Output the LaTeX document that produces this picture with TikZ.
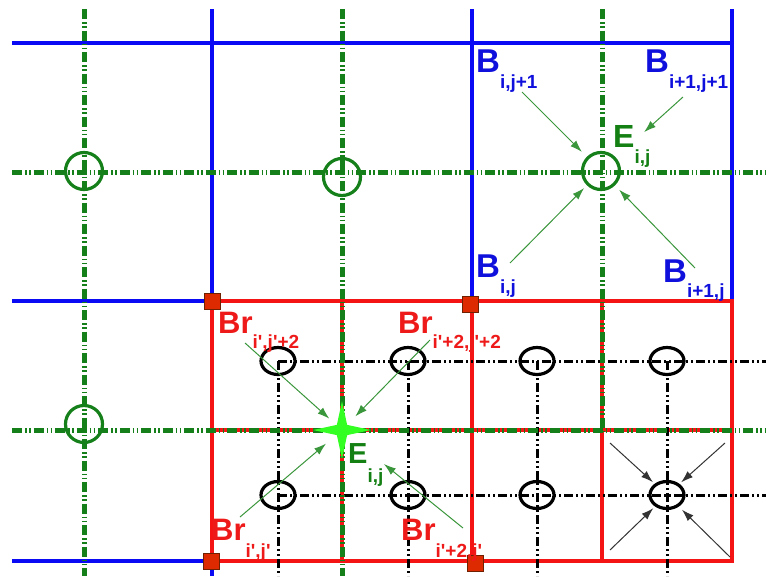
\documentclass[tikz,border=0pt]{standalone}
\usepackage{fontspec}
\setmainfont{Liberation Sans}
\usetikzlibrary{arrows.meta,shapes.geometric}
\definecolor{GridBlue}{HTML}{0A0AF5}
\definecolor{GridRed}{HTML}{F51414}
\definecolor{GridGreen}{HTML}{15801A}
\definecolor{Spark}{HTML}{33FF22}
\definecolor{Knot}{HTML}{DD2A00}
\definecolor{KnotEdge}{HTML}{6E2000}
\definecolor{LabBlue}{HTML}{1010DD}
\definecolor{LabRed}{HTML}{EE1A1A}
\definecolor{LabGreen}{HTML}{148014}
\definecolor{Pointer}{HTML}{3A963A}
\newcommand{\symlab}[4][-16pt]{{\fontsize{#2}{#2}\selectfont\bfseries #3}\raisebox{#1}{\fontsize{19}{19}\selectfont\bfseries #4}}
\newcommand{\pr}{\textquotesingle}
\tikzset{
 blueline/.style={draw=GridBlue, line width=3.5pt},
 redline/.style={draw=GridRed, line width=3.5pt},
 greenline/.style={draw=GridGreen, line width=5pt, dash pattern=on 10pt off 3pt on 1.5pt off 2.5pt on 1.5pt off 3pt},
 blackline/.style={draw=black, line width=3pt, dash pattern=on 9pt off 3pt on 2pt off 3pt on 2pt off 3pt},
 ring/.style={circle, draw=GridGreen, line width=3.2pt, minimum size=37pt, inner sep=0pt},
 oval/.style={ellipse, draw=black, line width=3.2pt, minimum width=34pt, minimum height=27pt, inner sep=0pt},
 knot/.style={rectangle, fill=Knot, draw=KnotEdge, line width=0.8pt, minimum size=16pt, inner sep=0pt},
 spark/.style={star, star points=4, star point ratio=4, fill=Spark, minimum size=58pt, inner sep=0pt},
 blab/.style={text=LabBlue, anchor=base west, inner sep=0pt},
 rlab/.style={text=LabRed, anchor=base west, inner sep=0pt},
 glab/.style={text=LabGreen, anchor=base west, inner sep=0pt},
 pointer/.style={-{Latex[length=12pt,width=8pt]}, draw=Pointer, line width=1pt},
 blackpointer/.style={pointer, draw=black!80}
}
\begin{document}
\begin{tikzpicture}[x=1pt,y=-1pt]
\useasboundingbox (0,0) rectangle (766,576);

\draw[blueline] (12,43) -- (732,43);
\draw[blueline] (12,301) -- (212,301);
\draw[blueline] (12,561) -- (212,561);
\draw[blueline] (212,9) -- (212,576);
\draw[blueline] (472,9) -- (472,301);
\draw[blueline] (732,9) -- (732,301);

\draw[redline] (212,301) rectangle (732,561);
\draw[redline] (342,301) -- (342,561);
\draw[redline] (472,301) -- (472,561);
\draw[redline] (602,301) -- (602,561);
\draw[redline] (212,430) -- (732,430);

\draw[blackline] (278,361) -- (766,361);
\draw[blackline] (278,495) -- (766,495);
\foreach \x in {278,408,537,667}
  \draw[blackline] (\x,361) -- (\x,576);

\draw[greenline] (84,9) -- (84,576);
\draw[greenline] (342,9) -- (342,576);
\draw[greenline] (602,9) -- (602,432);
\draw[greenline] (12,172) -- (766,172);
\draw[greenline] (12,430) -- (766,430);

\node[ring] (g1) at (84,171) {};
\node[ring] (g2) at (342,177) {};
\node[ring] (gEij) at (601,171) {};
\node[ring] (g3) at (84,424) {};

\node[oval] (o1) at (278,361) {};
\node[oval] (o2) at (408,361) {};
\node[oval] (o3) at (537,361) {};
\node[oval] (o4) at (667,361) {};
\node[oval] (o5) at (278,495) {};
\node[oval] (o6) at (408,495) {};
\node[oval] (o7) at (537,495) {};
\node[oval] (o8) at (667,495) {};

\node[knot] (k1) at (212,301) {};
\node[knot] (k2) at (470,304) {};
\node[knot] (k3) at (211,561) {};
\node[knot] (k4) at (475,563) {};

\node[spark] (sEij) at (342,430) {};

\node[blab] (Bij1) at (476,72) {\symlab{33}{B}{i,j+1}};
\node[blab] (Bi1j1) at (645,72) {\symlab{33}{B}{i+1,j+1}};
\node[glab] (Etop) at (613,147) {\symlab{32}{E}{i,j}};
\node[blab] (Bij) at (476,277) {\symlab{33}{B}{i,j}};
\node[blab] (Bi1j) at (663,282) {\symlab[-15pt]{33}{B}{i+1,j}};
\node[rlab] (Brij2) at (218,333) {\symlab[-15pt]{31}{Br}{i\pr,j\pr+2}};
\node[rlab] (Bri2j2) at (398,333) {\symlab[-15pt]{31}{Br}{i\pr+2,j\pr+2}};
\node[rlab] (Brij) at (211,540) {\symlab[-17pt]{31}{Br}{i\pr,j\pr}};
\node[rlab] (Bri2j) at (401,540) {\symlab[-17pt]{31}{Br}{i\pr+2,j\pr}};
\node[glab] (Ebot) at (348,463) {\symlab[-19pt]{29}{E}{i,j}};

\coordinate (tBij1) at (522,92);
\coordinate (tBi1j1) at (683,97);
\coordinate (tBij) at (510,263);
\coordinate (tBi1j) at (695,268);
\draw[pointer, shorten >=27pt] (tBij1) -- (gEij.center);
\draw[pointer, shorten >=58pt] (tBi1j1) -- (gEij.center);
\draw[pointer, shorten >=24pt] (tBij) -- (gEij.center);
\draw[pointer, shorten >=26pt] (tBi1j) -- (gEij.center);

\coordinate (tBrij2) at (245,343);
\coordinate (tBri2j2) at (430,340);
\coordinate (tBrij) at (240,517);
\coordinate (tBri2j) at (463,528);
\draw[pointer, shorten >=17pt] (tBrij2) -- (sEij.center);
\draw[pointer, shorten >=19pt] (tBri2j2) -- (sEij.center);
\draw[pointer, shorten >=21pt] (tBrij) -- (sEij.center);
\draw[pointer, shorten >=54pt] (tBri2j) -- (sEij.center);

\coordinate (c1) at (610,443);
\coordinate (c2) at (725,443);
\coordinate (c3) at (610,550);
\coordinate (c4) at (730,557);
\draw[blackpointer, shorten >=19pt] (c1) -- (o8.center);
\draw[blackpointer, shorten >=19pt] (c2) -- (o8.center);
\draw[blackpointer, shorten >=19pt] (c3) -- (o8.center);
\draw[blackpointer, shorten >=21pt] (c4) -- (o8.center);
\end{tikzpicture}
\end{document}
